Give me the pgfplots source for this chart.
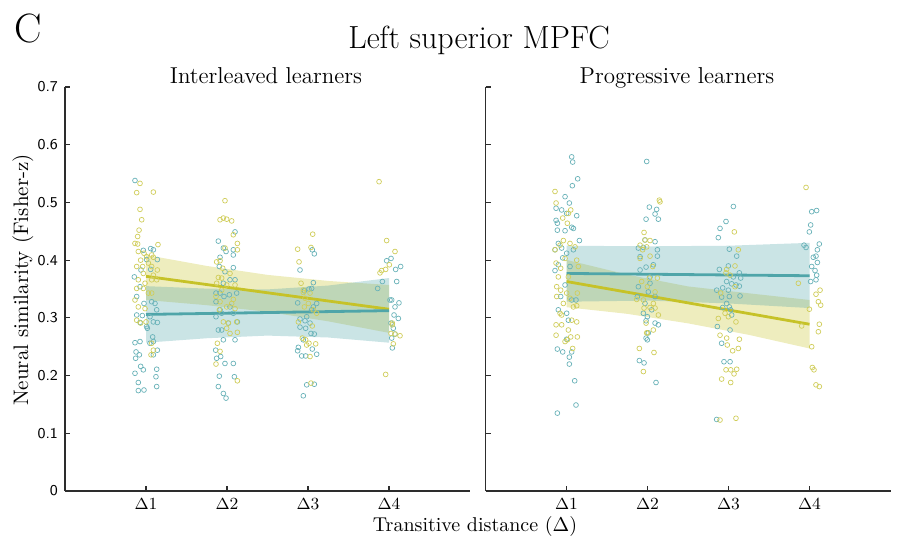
\documentclass[border=0pt]{standalone}
\usepackage{pgfplots}
\pgfplotsset{compat=1.18}
\definecolor{ylw}{RGB}{198,194,40}
\definecolor{tel}{RGB}{79,165,169}
\definecolor{ylwpt}{RGB}{208,205,90}
\definecolor{telpt}{RGB}{105,178,184}
\definecolor{axc}{RGB}{45,45,45}
\pgfplotsset{
  panel/.style={
    scale only axis, width=202.5pt, height=202pt,
    xmin=0, xmax=5, ymin=0, ymax=0.7,
    axis x line=bottom, axis y line=left,
    axis line style={-, line width=0.75pt, axc},
    tick align=inside, major tick length=2.5pt,
    tick style={line width=0.6pt, axc},
    xtick={1,2,3,4}, xticklabels={$\Delta$1,$\Delta$2,$\Delta$3,$\Delta$4},
    ytick={0,0.1,0.2,0.3,0.4,0.5,0.6,0.7},
    xticklabel style={font=\fontsize{8.5}{10}\selectfont},
    yticklabel style={font=\sffamily\fontsize{7.5}{9}\selectfont},
    /pgf/number format/assume math mode=true,
    /pgf/number format/fixed,
    clip=false,
  },
  pty/.style={only marks, mark=o, mark size=1.2pt, ylwpt, mark options={line width=0.35pt}},
  ptt/.style={only marks, mark=o, mark size=1.2pt, telpt, mark options={line width=0.35pt}},
}
\begin{document}
\begin{tikzpicture}
\useasboundingbox (0,0) rectangle (448.5pt,269pt);
% ---------------- left panel ----------------
\begin{axis}[panel, at={(32.5pt,23.5pt)}, anchor=south west]
\addplot[draw=none, fill=ylw, fill opacity=0.3] coordinates {(1,0.409) (1.75,0.390) (2.5,0.3745) (3.25,0.364) (4,0.357) (4,0.274) (3.25,0.294) (2.5,0.3105) (1.75,0.322) (1,0.331)} -- cycle;
\addplot[draw=none, fill=tel, fill opacity=0.3] coordinates {(1,0.355) (1.75,0.3507) (2.5,0.3493) (3.25,0.356) (4,0.369) (4,0.257) (3.25,0.266) (2.5,0.2693) (1.75,0.2647) (1,0.257)} -- cycle;
\addplot[ptt] table {
0.864 0.538
0.967 0.417
1.058 0.420
1.091 0.418
1.008 0.401
0.856 0.371
0.938 0.383
1.058 0.384
1.140 0.401
0.926 0.354
0.885 0.337
0.975 0.325
0.885 0.305
0.955 0.304
1.070 0.328
1.111 0.325
1.132 0.314
1.049 0.302
1.091 0.293
1.140 0.292
1.008 0.285
0.926 0.292
1.016 0.282
1.082 0.267
0.864 0.257
0.926 0.259
1.049 0.256
1.091 0.259
1.140 0.244
0.877 0.241
0.918 0.236
0.872 0.230
1.091 0.236
0.934 0.216
0.967 0.210
0.864 0.204
1.132 0.211
0.905 0.188
1.132 0.181
0.905 0.174
0.975 0.175
1.123 0.198
2.099 0.449
1.893 0.433
2.078 0.418
1.955 0.421
1.988 0.415
1.914 0.405
2.078 0.409
1.905 0.389
1.975 0.380
2.078 0.387
2.037 0.366
2.099 0.366
1.955 0.360
1.864 0.343
1.914 0.343
1.963 0.337
2.029 0.340
2.119 0.343
1.864 0.328
2.037 0.319
1.914 0.314
1.864 0.302
1.934 0.308
2.078 0.308
2.016 0.291
1.934 0.279
1.893 0.279
2.128 0.293
1.955 0.262
2.099 0.262
1.860 0.244
1.922 0.233
1.975 0.221
1.872 0.230
1.905 0.199
2.091 0.198
1.893 0.181
1.955 0.169
1.988 0.161
2.078 0.221
3.053 0.418
3.078 0.411
2.901 0.383
3.066 0.361
2.955 0.347
3.012 0.350
3.045 0.351
2.872 0.326
3.107 0.325
3.066 0.319
3.045 0.314
2.984 0.302
2.901 0.298
3.025 0.291
2.963 0.295
2.901 0.284
2.971 0.282
3.037 0.273
3.078 0.272
2.942 0.262
2.881 0.249
2.872 0.243
3.053 0.246
3.107 0.237
2.922 0.234
2.971 0.234
2.984 0.184
3.078 0.185
2.942 0.165
3.971 0.399
4.025 0.403
4.082 0.384
4.144 0.389
3.918 0.363
4.095 0.363
3.860 0.351
4.012 0.331
4.033 0.331
4.123 0.326
4.074 0.319
4.062 0.305
4.115 0.299
4.025 0.291
4.053 0.282
4.033 0.265
4.041 0.248
4.074 0.272
};
\addplot[pty] table {
0.926 0.533
0.885 0.517
1.091 0.518
0.926 0.488
0.947 0.470
0.914 0.452
0.897 0.441
0.864 0.429
0.897 0.428
1.148 0.427
0.905 0.415
0.975 0.412
1.008 0.406
1.070 0.409
1.091 0.405
0.934 0.400
1.029 0.395
0.885 0.389
0.959 0.389
1.070 0.389
1.140 0.383
0.967 0.377
1.091 0.374
0.905 0.366
0.988 0.360
1.070 0.366
1.132 0.366
0.885 0.351
0.967 0.351
1.029 0.343
1.070 0.343
0.864 0.331
0.905 0.319
0.988 0.316
0.885 0.296
1.000 0.293
0.934 0.291
1.070 0.256
1.062 0.236
1.091 0.244
1.975 0.503
1.914 0.470
1.955 0.473
1.996 0.471
2.058 0.468
2.078 0.444
2.128 0.429
2.128 0.418
1.975 0.421
1.872 0.397
1.914 0.399
1.947 0.386
2.037 0.377
1.893 0.370
1.934 0.369
1.872 0.360
1.996 0.357
2.099 0.357
1.934 0.348
2.078 0.332
2.058 0.325
1.914 0.328
1.864 0.337
1.996 0.319
2.099 0.316
1.905 0.314
1.955 0.293
2.119 0.293
2.016 0.291
1.996 0.282
2.128 0.275
1.881 0.256
1.914 0.242
1.864 0.220
2.128 0.191
2.037 0.273
3.058 0.445
2.872 0.419
3.037 0.422
2.889 0.397
2.914 0.360
2.942 0.344
3.025 0.343
2.963 0.334
3.004 0.325
2.955 0.319
3.066 0.314
3.107 0.308
2.881 0.293
3.053 0.286
2.930 0.265
2.971 0.262
3.012 0.256
3.095 0.255
2.984 0.253
3.025 0.233
3.037 0.187
2.942 0.348
3.877 0.536
3.971 0.434
4.074 0.415
4.004 0.392
3.959 0.384
3.909 0.382
3.889 0.378
4.041 0.288
4.025 0.273
4.074 0.272
4.136 0.269
4.053 0.255
3.959 0.202
4.041 0.291
};
\addplot[ylw, line width=1.4pt] coordinates {(1,0.372) (4,0.315)};
\addplot[tel, line width=1.4pt] coordinates {(1,0.306) (4,0.3125)};
\end{axis}
% ---------------- right panel ----------------
\begin{axis}[panel, at={(242.75pt,23.5pt)}, anchor=south west, yticklabels={,,,,,,,}]
\addplot[draw=none, fill=ylw, fill opacity=0.3] coordinates {(1,0.4005) (1.75,0.375) (2.5,0.3545) (3.25,0.3426) (4,0.331) (4,0.247) (3.25,0.2706) (2.5,0.2905) (1.75,0.307) (1,0.3185)} -- cycle;
\addplot[draw=none, fill=tel, fill opacity=0.3] coordinates {(1,0.425) (2,0.424) (3,0.425) (4,0.430) (4,0.317) (3,0.325) (2,0.330) (1,0.328)} -- cycle;
\addplot[ptt] table {
1.064 0.579
1.076 0.570
1.138 0.541
1.072 0.529
0.982 0.510
1.035 0.499
0.871 0.490
0.940 0.487
1.002 0.481
1.126 0.477
0.871 0.469
0.887 0.464
0.982 0.451
1.064 0.457
1.085 0.455
0.887 0.452
1.159 0.434
0.899 0.429
0.940 0.421
0.858 0.418
1.002 0.412
0.953 0.404
1.085 0.418
0.899 0.392
1.043 0.389
0.858 0.382
0.982 0.357
0.928 0.337
1.064 0.331
1.117 0.331
0.899 0.314
1.002 0.308
1.023 0.296
1.002 0.263
0.887 0.246
0.953 0.241
1.064 0.241
1.035 0.232
1.035 0.220
1.101 0.191
1.117 0.149
0.887 0.135
1.990 0.571
2.023 0.492
2.093 0.480
2.113 0.488
1.982 0.471
2.134 0.471
1.969 0.435
2.093 0.432
1.949 0.422
1.887 0.421
2.122 0.418
1.908 0.406
2.122 0.407
2.072 0.392
1.908 0.383
1.982 0.388
2.031 0.371
1.887 0.354
2.010 0.345
1.875 0.337
2.093 0.337
1.969 0.325
2.052 0.314
1.949 0.308
1.998 0.302
1.982 0.295
2.093 0.291
2.134 0.288
2.010 0.274
1.982 0.265
1.998 0.262
1.899 0.226
1.957 0.222
2.105 0.188
2.031 0.360
3.060 0.493
2.969 0.467
2.895 0.455
2.874 0.439
3.010 0.419
3.101 0.407
2.887 0.384
2.998 0.390
3.060 0.371
3.134 0.378
3.150 0.369
2.977 0.363
3.039 0.359
3.093 0.357
3.134 0.355
2.854 0.348
2.928 0.352
2.998 0.348
2.915 0.336
3.010 0.337
3.142 0.338
2.977 0.325
2.928 0.318
3.010 0.319
3.027 0.314
3.039 0.305
2.862 0.285
3.019 0.279
2.915 0.256
2.944 0.224
3.019 0.224
2.854 0.124
4.027 0.484
4.088 0.486
4.014 0.461
3.998 0.449
3.932 0.426
3.957 0.422
4.121 0.428
4.097 0.418
4.080 0.407
4.047 0.405
4.097 0.396
4.027 0.389
4.068 0.382
4.088 0.374
4.080 0.366
4.014 0.363
};
\addplot[pty] table {
0.858 0.519
0.871 0.499
1.052 0.487
1.023 0.481
0.953 0.473
1.010 0.464
0.961 0.434
1.043 0.429
0.920 0.426
1.105 0.423
0.858 0.418
0.982 0.403
1.126 0.400
0.871 0.395
0.928 0.386
1.146 0.389
0.899 0.371
1.023 0.371
0.879 0.354
0.928 0.348
1.002 0.343
1.134 0.343
0.879 0.337
0.961 0.325
1.043 0.334
1.085 0.319
0.920 0.308
1.126 0.321
0.940 0.305
1.064 0.296
1.126 0.293
0.871 0.288
0.940 0.288
1.023 0.279
0.871 0.270
1.052 0.267
1.134 0.267
0.982 0.259
1.076 0.247
1.010 0.262
2.146 0.504
2.154 0.501
1.957 0.448
1.969 0.435
2.031 0.434
1.908 0.426
1.990 0.423
1.940 0.418
2.031 0.407
1.908 0.403
2.064 0.389
2.122 0.369
2.023 0.369
1.928 0.363
1.998 0.354
2.093 0.345
1.866 0.332
1.949 0.331
2.072 0.325
2.031 0.318
1.957 0.317
2.093 0.317
2.134 0.305
1.982 0.291
2.072 0.279
1.998 0.274
1.899 0.247
2.080 0.240
1.949 0.207
1.990 0.274
3.072 0.449
3.121 0.418
3.080 0.390
2.977 0.384
2.969 0.378
3.019 0.374
2.903 0.343
3.080 0.354
2.874 0.299
3.092 0.293
2.895 0.270
2.977 0.265
3.134 0.263
3.051 0.243
3.121 0.247
2.985 0.253
2.969 0.210
3.027 0.210
3.101 0.211
3.068 0.203
2.915 0.194
3.027 0.188
2.895 0.123
3.092 0.126
2.957 0.308
2.998 0.302
3.957 0.526
3.862 0.360
4.130 0.348
4.080 0.341
4.109 0.328
4.138 0.322
3.998 0.315
4.121 0.289
3.903 0.286
4.109 0.276
4.027 0.250
4.035 0.214
4.055 0.210
4.080 0.184
4.121 0.181
};
\addplot[ylw, line width=1.4pt] coordinates {(1,0.363) (4,0.289)};
\addplot[tel, line width=1.4pt] coordinates {(1,0.377) (4,0.373)};
\end{axis}
% ---------------- texts ----------------
\node[font=\fontsize{20.5}{24}\selectfont, inner sep=0pt] at (14.25pt,255pt) {C};
\node[font=\fontsize{16}{19}\selectfont, anchor=base, inner sep=0pt] at (239.5pt,245pt) {Left superior MPFC};
\node[font=\fontsize{11.5}{14}\selectfont, anchor=base, inner sep=0pt] at (133pt,227.3pt) {Interleaved learners};
\node[font=\fontsize{11.5}{14}\selectfont, anchor=base, inner sep=0pt] at (338.5pt,227.3pt) {Progressive learners};
\node[font=\fontsize{10}{12}\selectfont, anchor=base, inner sep=0pt] at (237.5pt,3.3pt) {Transitive distance ($\Delta$)};
\node[font=\fontsize{10.5}{12}\selectfont, rotate=90, inner sep=0pt] at (11.5pt,129pt) {Neural similarity (Fisher-z)};
\end{tikzpicture}
\end{document}
